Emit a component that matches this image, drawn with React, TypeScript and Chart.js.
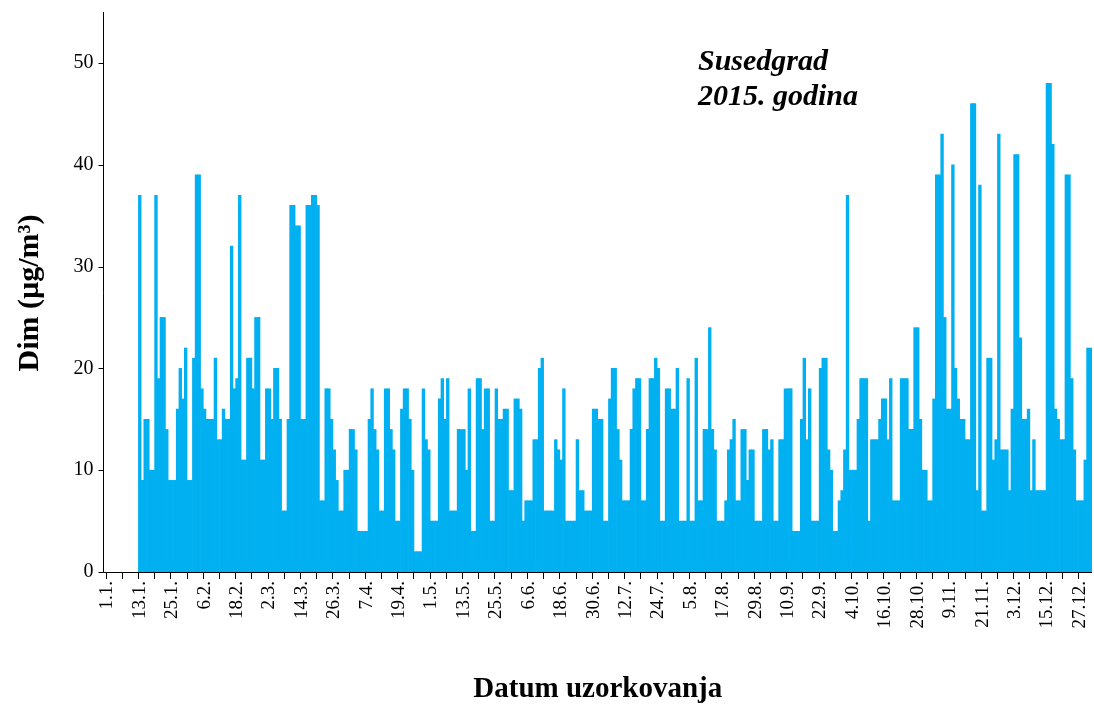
import React, { useEffect, useRef } from "react";
import { Chart, registerables } from "chart.js";

Chart.register(...registerables);

// Daily smoke concentrations (µg/m³), Susedgrad 2015, one array per month
const jan: (number | null)[] = [null, null, null, null, null, null, null, null, null, null, null, null,
  37, 9, 15, 15, 10, 10, 37, 19, 25, 25, 14, 9, 9, 9, 16, 20, 17, 22, 9];
const feb: (number | null)[] = [9, 21, 39, 39, 18, 16, 15, 15, 15, 21, 13, 13, 16, 15, 15, 32, 18, 19, 37, 11,
  11, 21, 21, 18, 25, 25, 11, 11];
const mar: (number | null)[] = [18, 18, 15, 20, 20, 15, 6, 6, 15, 36, 36, 34, 34, 15, 15, 36, 36, 37, 37, 36,
  7, 7, 18, 18, 15, 12, 9, 6, 6, 10, 10];
const apr: (number | null)[] = [14, 14, 12, 4, 4, 4, 4, 15, 18, 14, 12, 6, 6, 18, 18, 14, 12, 5, 5, 16,
  18, 18, 15, 10, 2, 2, 2, 18, 13, 12];
const may: (number | null)[] = [5, 5, 5, 17, 19, 15, 19, 6, 6, 6, 14, 14, 14, 10, 18, 4, 4, 19, 19, 14,
  18, 18, 5, 5, 18, 15, 15, 16, 16, 8, 8];
const jun: (number | null)[] = [17, 17, 16, 5, 7, 7, 7, 13, 13, 20, 21, 6, 6, 6, 6, 13, 12, 11, 18, 5,
  5, 5, 5, 13, 8, 8, 6, 6, 6, 16];
const jul: (number | null)[] = [16, 15, 15, 5, 5, 17, 20, 20, 14, 11, 7, 7, 7, 14, 18, 19, 19, 7, 7, 14,
  19, 19, 21, 20, 5, 5, 18, 18, 16, 16, 20];
const aug: (number | null)[] = [5, 5, 5, 19, 5, 5, 21, 7, 7, 14, 14, 24, 14, 12, 5, 5, 5, 7, 12, 13,
  15, 7, 7, 14, 14, 9, 12, 12, 5, 5, 5];
const sep: (number | null)[] = [14, 14, 12, 13, 5, 5, 13, 13, 18, 18, 18, 4, 4, 4, 15, 21, 13, 18, 5, 5,
  5, 20, 21, 21, 12, 10, 4, 4, 7, 8];
const oct: (number | null)[] = [12, 37, 10, 10, 10, 15, 19, 19, 19, 5, 13, 13, 13, 15, 17, 17, 13, 19, 7, 7,
  7, 19, 19, 19, 14, 14, 24, 24, 15, 10, 10];
const nov: (number | null)[] = [7, 7, 17, 39, 39, 43, 25, 16, 16, 40, 20, 17, 15, 15, 13, 13, 46, 46, 8, 38,
  6, 6, 21, 21, 11, 13, 43, 12, 12, 12];
const dec: (number | null)[] = [8, 16, 41, 41, 23, 15, 15, 16, 8, 13, 8, 8, 8, 8, 48, 48, 42, 16, 15, 13,
  13, 39, 39, 19, 12, 7, 7, 7, 11, 22, 22];

const months = [jan, feb, mar, apr, may, jun, jul, aug, sep, oct, nov, dec];

// Category labels: every day of 2015 as "d.m."
const categories: string[] = [];
months.forEach((m, mi) => {
  m.forEach((_, di) => categories.push(`${di + 1}.${mi + 1}.`));
});
const values: (number | null)[] = months.flat();

const yTicks = [0, 10, 20, 30, 40, 50];
const labelEvery = 12;
const tickEvery = 6;

const titleLines = ["Susedgrad", "2015. godina"];
const yTitle = "Dim (µg/m³)";
const xTitle = "Datum uzorkovanja";

const FONT = "'Liberation Serif', 'Times New Roman', serif";
const AXIS_X = 103.5;

export default function App() {
  const ref = useRef<HTMLCanvasElement | null>(null);

  useEffect(() => {
    if (!ref.current) return;
    const textPlugin = {
      id: "texts",
      afterDraw(chart: any) {
        const ctx = chart.ctx as CanvasRenderingContext2D;
        const ca = chart.chartArea;
        const ys = chart.scales.y;
        ctx.save();
        // axes lines
        ctx.strokeStyle = "#000";
        ctx.lineWidth = 1;
        ctx.beginPath();
        ctx.moveTo(AXIS_X, ca.top);
        ctx.lineTo(AXIS_X, Math.round(ca.bottom) + 0.5);
        ctx.lineTo(ca.right, Math.round(ca.bottom) + 0.5);
        yTicks.forEach((v) => {
          const y = Math.round(ys.getPixelForValue(v)) + 0.5;
          ctx.moveTo(AXIS_X - 5, y);
          ctx.lineTo(AXIS_X, y);
        });
        ctx.stroke();
        ctx.fillStyle = "#000";
        ctx.font = `20px ${FONT}`;
        ctx.textAlign = "right";
        ctx.textBaseline = "middle";
        yTicks.forEach((v) => {
          ctx.fillText(String(v), AXIS_X - 10, ys.getPixelForValue(v));
        });
        ctx.font = `italic bold 30px ${FONT}`;
        ctx.textAlign = "left";
        ctx.textBaseline = "alphabetic";
        ctx.fillText(titleLines[0], 698, 70);
        ctx.fillText(titleLines[1], 698, 105);
        ctx.font = `bold 29px ${FONT}`;
        ctx.textAlign = "center";
        ctx.textBaseline = "middle";
        ctx.fillText(xTitle, (AXIS_X + ca.right) / 2, 690);
        ctx.translate(30, 293);
        ctx.rotate(-Math.PI / 2);
        ctx.font = `bold 30px ${FONT}`;
        ctx.fillText(yTitle, 0, 0);
        ctx.restore();
      },
    };

    const chart = new Chart(ref.current, {
      type: "bar",
      data: {
        labels: categories,
        datasets: [
          {
            data: values,
            backgroundColor: "#00B0F0",
            borderWidth: 0,
            barPercentage: 1,
            categoryPercentage: 1,
          },
        ],
      },
      options: {
        animation: false,
        responsive: false,
        devicePixelRatio: 1,
        layout: { padding: { left: 0, right: 2, top: 12, bottom: 0 } },
        plugins: {
          legend: { display: false },
          tooltip: { enabled: false },
          title: { display: false },
        },
        scales: {
          x: {
            grid: {
              drawOnChartArea: false,
              drawTicks: true,
              tickLength: 7,
              offset: true,
              color: (c: any) => (c.index % tickEvery === 0 ? "#000" : "rgba(0,0,0,0)"),
            },
            border: { display: false },
            ticks: {
              autoSkip: false,
              maxRotation: 90,
              minRotation: 90,
              padding: 2,
              color: "#000",
              font: { family: FONT, size: 19 },
              callback: (_v: any, i: number) => (i % labelEvery === 0 ? categories[i] : ""),
            },
            afterFit: (s: any) => {
              s.height = 132;
              s.paddingLeft = 0;
              s.paddingRight = 0;
            },
          },
          y: {
            min: 0,
            max: 55,
            afterBuildTicks: (s: any) => {
              s.ticks = yTicks.map((v) => ({ value: v }));
            },
            grid: { display: false },
            border: { display: false },
            ticks: { display: false },
            afterFit: (s: any) => {
              s.width = 106;
              s.paddingTop = 0;
              s.paddingBottom = 0;
            },
          },
        },
      },
      plugins: [textPlugin],
    });
    return () => chart.destroy();
  }, []);

  return (
    <div style={{ position: "fixed", left: 0, top: 0, width: 1094, height: 704, background: "#fff" }}>
      <canvas ref={ref} width={1094} height={704} style={{ width: 1094, height: 704 }} />
    </div>
  );
}
